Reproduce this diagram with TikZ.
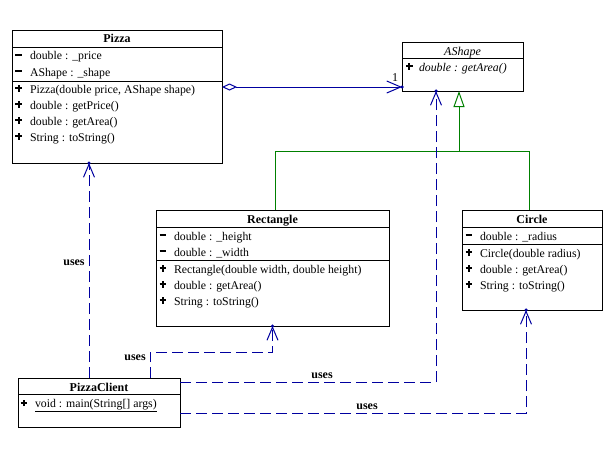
\documentclass[tikz,border=0pt]{standalone}
\usepackage{fontspec}
\setmainfont{Liberation Serif}
\usetikzlibrary{arrows.meta}
\definecolor{depblue}{RGB}{0,0,160}
\definecolor{gengreen}{RGB}{0,128,0}
\newcommand{\mkp}{\makebox[7pt][l]{\rule[3.6pt]{6.5pt}{2pt}\hspace{-4.25pt}\rule[1.35pt]{2pt}{6.5pt}}}
\newcommand{\mkm}{\makebox[7pt][l]{\rule[3.6pt]{6pt}{2pt}}}
\newcommand{\umlrow}[5]{\node[rowtxt] (#1) at (#2+18,#3) {#5};\node[rowmk] (#1m) at (#2+3.5,#3) {#4};}
\begin{document}
\begin{tikzpicture}[x=1pt,y=-1pt,
  every node/.style={inner sep=0pt, outer sep=0pt},
  cls/.style={draw=black, line width=1pt, rectangle, anchor=north west, fill=white},
  ttl/.style={font=\fontsize{12}{14}\selectfont\bfseries, anchor=base},
  rowtxt/.style={font=\fontsize{11.8}{14}\selectfont, anchor=base west},
  rowmk/.style={font=\fontsize{11.8}{14}\selectfont, anchor=base west},
  sepline/.style={line width=1pt, black},
  dep/.style={depblue, line width=1pt, dash pattern=on 11pt off 5pt, -{Straight Barb[length=13pt,width=11pt]}},
  tipdot/.style={circle, fill=depblue, minimum size=3.5pt, inner sep=0pt},
  inh/.style={gengreen, line width=1pt},
  lbl/.style={font=\fontsize{12}{14}\selectfont\bfseries},
]
\fill[white] (0,0) rectangle (615,464);
\useasboundingbox (0,0) rectangle (615,464);

% ---- Pizza
\node[cls, minimum width=210pt, minimum height=133pt] (pizza) at (12,30) {};
\draw[sepline] ([yshift=-17pt]pizza.north west) -- ([yshift=-17pt]pizza.north east);
\draw[sepline] ([yshift=-51pt]pizza.north west) -- ([yshift=-51pt]pizza.north east);
\node[ttl] (pizzat) at (117,42.5) {Pizza};
\umlrow{pz1}{12}{59.5}{\mkm}{double : \_price}
\umlrow{pz2}{12}{76}{\mkm}{AShape : \_shape}
\umlrow{pz3}{12}{93}{\mkp}{Pizza(double price, AShape shape)}
\umlrow{pz4}{12}{109}{\mkp}{double : getPrice()}
\umlrow{pz5}{12}{125}{\mkp}{double : getArea()}
\umlrow{pz6}{12}{141}{\mkp}{String : toString()}

% ---- AShape
\node[cls, minimum width=121pt, minimum height=49pt] (ashape) at (402,42) {};
\draw[sepline] ([yshift=-16pt]ashape.north west) -- ([yshift=-16pt]ashape.north east);
\node[ttl, font=\fontsize{12}{14}\selectfont\itshape] (ashapet) at (462.5,55) {AShape};
\node[rowtxt] (as1) at (419,71) {\itshape double : getArea()};
\node[rowmk] (as1m) at (406,71) {\mkp};

% ---- Rectangle
\node[cls, minimum width=233pt, minimum height=116pt] (rect) at (156,210) {};
\draw[sepline] ([yshift=-17pt]rect.north west) -- ([yshift=-17pt]rect.north east);
\draw[sepline] ([yshift=-50pt]rect.north west) -- ([yshift=-50pt]rect.north east);
\node[ttl] (rectt) at (272.5,223) {Rectangle};
\umlrow{re1}{156}{240}{\mkm}{double : \_height}
\umlrow{re2}{156}{256}{\mkm}{double : \_width}
\umlrow{re3}{156}{273}{\mkp}{Rectangle(double width, double height)}
\umlrow{re4}{156}{289}{\mkp}{double : getArea()}
\umlrow{re5}{156}{305}{\mkp}{String : toString()}

% ---- Circle
\node[cls, minimum width=140pt, minimum height=100pt] (circ) at (462,210) {};
\draw[sepline] ([yshift=-17pt]circ.north west) -- ([yshift=-17pt]circ.north east);
\draw[sepline] ([yshift=-34pt]circ.north west) -- ([yshift=-34pt]circ.north east);
\node[ttl] (circt) at (532,223) {Circle};
\umlrow{ci1}{462}{240}{\mkm}{double : \_radius}
\umlrow{ci2}{462}{257}{\mkp}{Circle(double radius)}
\umlrow{ci3}{462}{273}{\mkp}{double : getArea()}
\umlrow{ci4}{462}{289}{\mkp}{String : toString()}

% ---- PizzaClient
\node[cls, minimum width=162pt, minimum height=49pt] (pc) at (18,378) {};
\draw[sepline] ([yshift=-16pt]pc.north west) -- ([yshift=-16pt]pc.north east);
\node[ttl] (pct) at (99,391) {PizzaClient};
\umlrow{pc1}{17}{407.5}{\mkp}{\underline{void : main(String[] args)}}

% ---- aggregation Pizza -> AShape
\draw[depblue, line width=1pt, {Diamond[open,length=15pt,width=7pt]}-{Straight Barb[length=14pt,width=12pt]}]
  ([yshift=9.5pt]pizza.east) -- ([yshift=9.5pt]pizza.east -| ashape.west) node[tipdot, pos=1] (aggdot) {};
\node[font=\fontsize{12}{14}\selectfont] (one) at (395,78) {1};

% ---- generalisation
\coordinate (junc) at (459,151);
\draw[inh] ([xshift=2.5pt]rect.north) |- ([xshift=-3pt]circ.north |- junc) -- ([xshift=-3pt]circ.north);
\draw[inh, -{Triangle[open,length=16pt,width=11pt]}] (junc) -- (junc |- ashape.south);

% ---- dependencies
\draw[dep] ([xshift=-10pt]pc.north) -- ([xshift=-10pt]pc.north |- pizza.south) node[tipdot, pos=1] (d1) {};
\node[lbl] (u1) at (74,263) {uses};
\draw[dep] ([xshift=51pt]pc.north) |- ([yshift=-26pt]rect.south) -- (rect.south) node[tipdot, pos=1] (d2) {};
\node[lbl] (u2) at (135,358) {uses};
\draw[dep] ([yshift=20.5pt]pc.east) -| ([xshift=-26.5pt]ashape.south) node[tipdot, pos=1] (d3) {};
\node[lbl] (u3) at (322,375.5) {uses};
\draw[dep] ([yshift=-10.5pt]pc.east) -| ([xshift=-6pt]circ.south) node[tipdot, pos=1] (d4) {};
\node[lbl] (u4) at (367,406.5) {uses};
\end{tikzpicture}
\end{document}
